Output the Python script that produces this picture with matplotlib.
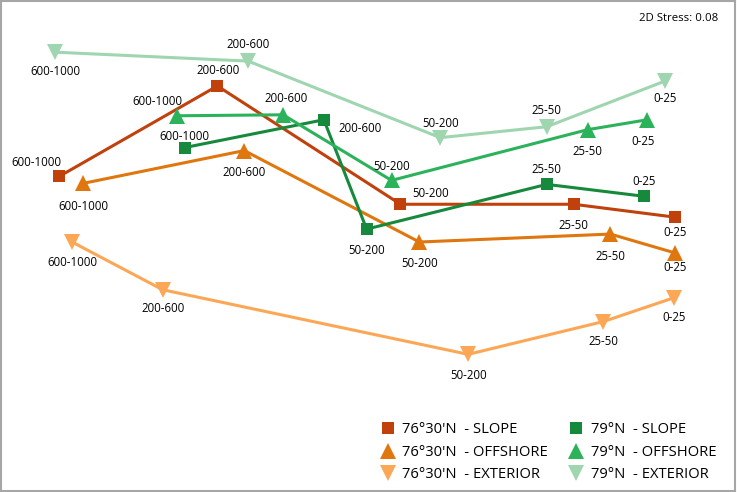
import matplotlib
matplotlib.use("Agg")
import matplotlib.pyplot as plt

plt.rcParams["font.family"] = ["Open Sans", "DejaVu Sans"]

# NMDS ordination scores (arbitrary units) per depth stratum
DEPTHS = ["600-1000", "200-600", "50-200", "25-50", "0-25"]

SLOPE_76_X = [-3.10, -1.51, 0.33, 2.07, 3.09]
SLOPE_76_Y = [0.70, 1.61, 0.42, 0.42, 0.29]
OFFSHORE_76_X = [-2.86, -1.24, 0.52, 2.44, 3.09]
OFFSHORE_76_Y = [0.63, 0.96, 0.04, 0.12, -0.07]
EXTERIOR_76_X = [-2.97, -2.06, 1.01, 2.37, 3.08]
EXTERIOR_76_Y = [0.04, -0.44, -1.09, -0.76, -0.52]

SLOPE_79_X = [-1.84, -0.44, -0.01, 1.80, 2.78]
SLOPE_79_Y = [0.99, 1.27, 0.17, 0.62, 0.50]
OFFSHORE_79_X = [-1.92, -0.85, 0.24, 2.21, 2.81]
OFFSHORE_79_Y = [1.31, 1.32, 0.66, 1.17, 1.27]
EXTERIOR_79_X = [-3.14, -1.20, 0.73, 1.80, 2.99]
EXTERIOR_79_Y = [1.95, 1.86, 1.09, 1.20, 1.66]

STRESS = 0.08

# label offsets in pixels (dx, dy up) for each point label
OFF_SLOPE_76 = [(-23, 14), (1, 15), (30, 11), (0, -21), (0, -15)]
OFF_OFFSHORE_76 = [(0, -23), (0, -22), (0, -21), (0, -22), (0, -15)]
OFF_EXTERIOR_76 = [(0, -20), (0, -19), (0, -21), (0, -20), (0, -20)]
OFF_SLOPE_79 = [(0, 11), (36, -9), (0, -21), (0, 15), (0, 15)]
OFF_OFFSHORE_79 = [(-19, 14), (3, 16), (0, 14), (0, -22), (-4, -22)]
OFF_EXTERIOR_79 = [(0, -19), (0, 17), (0, 14), (0, 16), (0, -18)]

SERIES = [
    ("76°30'N  - SLOPE", SLOPE_76_X, SLOPE_76_Y, OFF_SLOPE_76, "s", "#C0410C", 9),
    ("76°30'N  - OFFSHORE", OFFSHORE_76_X, OFFSHORE_76_Y, OFF_OFFSHORE_76, "^", "#E0760E", 11),
    ("76°30'N  - EXTERIOR", EXTERIOR_76_X, EXTERIOR_76_Y, OFF_EXTERIOR_76, "v", "#FBA755", 11),
    ("79°N  - SLOPE", SLOPE_79_X, SLOPE_79_Y, OFF_SLOPE_79, "s", "#17893C", 9),
    ("79°N  - OFFSHORE", OFFSHORE_79_X, OFFSHORE_79_Y, OFF_OFFSHORE_79, "^", "#2DB25C", 11),
    ("79°N  - EXTERIOR", EXTERIOR_79_X, EXTERIOR_79_Y, OFF_EXTERIOR_79, "v", "#9FD6B0", 11),
]

fig = plt.figure(figsize=(7.37, 4.92), dpi=100)
ax = fig.add_axes([0.002, 0.003, 0.995, 0.994])

for name, xs, ys, offs, mk, col, ms in SERIES:
    ax.plot(xs, ys, marker=mk, color=col, linewidth=2.2, markersize=ms,
            markeredgewidth=0, label=name)
    for x, y, lab, (dx, dy) in zip(xs, ys, DEPTHS, offs):
        ax.annotate(lab, (x, y), xytext=(dx, dy), textcoords="offset pixels",
                    ha="center", va="center", fontsize=8.3, color="black")

ax.text(0.978, 0.965, f"2D Stress: {STRESS:.2f}", transform=ax.transAxes,
        ha="right", va="center", fontsize=8.2)

ax.set_xlim(-3.68, 3.69)
ax.set_ylim(-2.46, 2.46)
ax.set_xticks([])
ax.set_yticks([])
for s in ax.spines.values():
    s.set_color("#A6A6A6")
    s.set_linewidth(1.5)

leg = ax.legend(loc="lower right", bbox_to_anchor=(0.989, -0.004), ncol=2,
                frameon=False, fontsize=10.6, handlelength=1.0, borderpad=0.2,
                handletextpad=0.5, columnspacing=1.4, labelspacing=0.5)
for h in leg.legend_handles:
    h.set_linestyle("none")

fig.savefig("out.png", dpi=100, facecolor="white")
